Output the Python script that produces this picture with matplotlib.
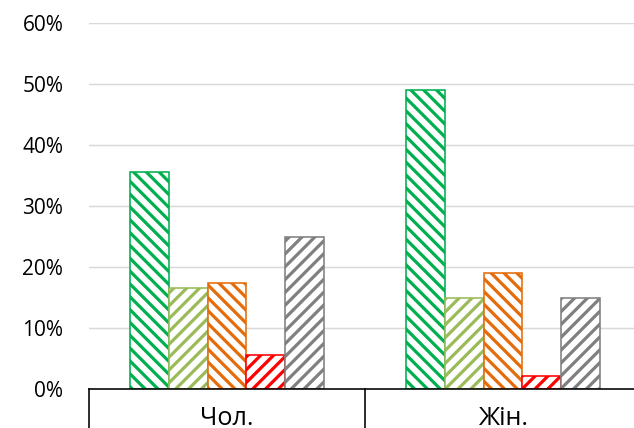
import matplotlib.pyplot as plt
import numpy as np

# data
categories = ["Чол.", "Жін."]
series_1 = [0.356, 0.490]
series_2 = [0.166, 0.150]
series_3 = [0.174, 0.190]
series_4 = [0.056, 0.022]
series_5 = [0.249, 0.150]
y_ticks = [0, 0.1, 0.2, 0.3, 0.4, 0.5, 0.6]

colors = ["#00B050", "#9BBB59", "#E46C0A", "#FF0000", "#808080"]
hatches = ["\\\\", "//", "\\\\", "//", "//"]

DPI = 77
plt.rcParams["font.family"] = ["Open Sans", "DejaVu Sans"]
plt.rcParams["hatch.linewidth"] = 3.0

fig = plt.figure(figsize=(634 / DPI, 428 / DPI), dpi=DPI)
ax = fig.add_axes([89 / 634, 38.6 / 428, 552 / 634, 366.7 / 428])

x = np.arange(len(categories))
width = 0.14
all_series = [series_1, series_2, series_3, series_4, series_5]
for i, vals in enumerate(all_series):
    offset = (i - 2) * width
    ax.bar(x + offset, vals, width, facecolor="white", edgecolor=colors[i],
           hatch=hatches[i], linewidth=1.5, zorder=3)

ax.set_xlim(-0.5, len(categories) - 0.5)
ax.set_ylim(0, 0.6)
ax.set_yticks(y_ticks)
ax.set_yticklabels([f"{int(round(t * 100))}%" for t in y_ticks])
ax.tick_params(axis="y", length=0, pad=24, labelsize=19.5, colors="#000000")
ax.set_xticks([])
ax.grid(axis="y", color="#D9D9D9", linewidth=1.4, zorder=0)

for side in ["top", "right", "left"]:
    ax.spines[side].set_visible(False)
ax.spines["bottom"].set_color("black")
ax.spines["bottom"].set_linewidth(1.5)
ax.spines["bottom"].set_zorder(4)

# category axis boxes like Excel
trans = ax.get_xaxis_transform()
for b in np.arange(len(categories) + 1) - 0.5:
    ax.plot([b, b], [0, -0.2], color="black", linewidth=1.5, transform=trans,
            clip_on=False)
for xi, cat in zip(x, categories):
    ax.text(xi, -0.097, cat, transform=trans, ha="center", va="baseline",
            fontsize=23.5)

fig.savefig("out.png", dpi=DPI)
